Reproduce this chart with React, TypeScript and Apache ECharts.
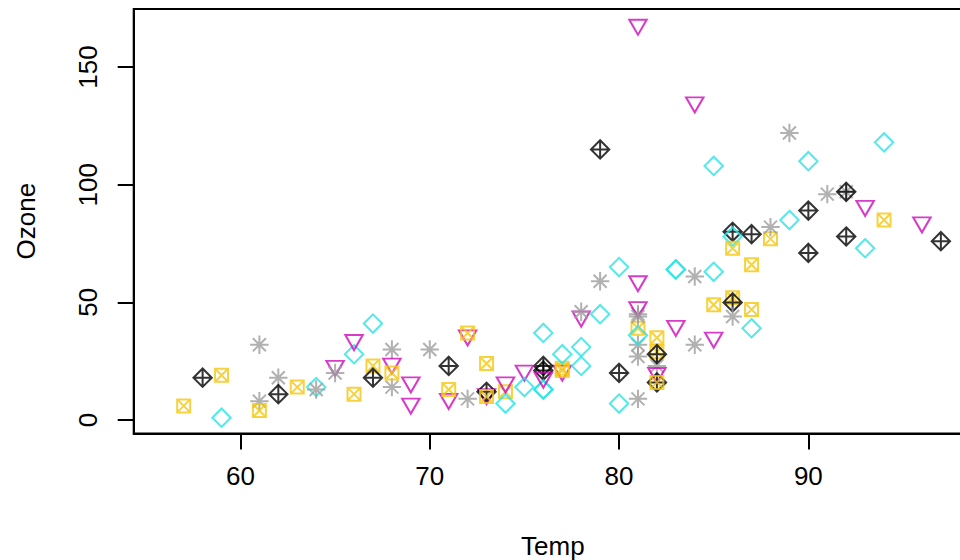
import React, { useEffect, useRef } from "react";
import * as echarts from "echarts";

// airquality: Temp and Ozone by row (May..September), null = NA
const temp = [
  67, 72, 74, 62, 56, 66, 65, 59, 61, 69, 74, 69, 66, 68, 58, 64, 66, 57, 68, 62, 59, 73, 61, 61, 57, 58, 57, 67, 81, 79, 76,
  78, 74, 67, 84, 85, 79, 82, 87, 90, 87, 93, 92, 82, 80, 79, 77, 72, 65, 73, 76, 77, 76, 76, 76, 75, 78, 73, 80, 77, 83,
  84, 85, 81, 84, 83, 83, 88, 92, 92, 89, 82, 73, 81, 91, 80, 81, 82, 84, 87, 85, 74, 81, 82, 86, 85, 82, 86, 88, 86, 83, 81,
  81, 81, 82, 86, 85, 87, 89, 90, 90, 92, 86, 86, 82, 80, 79, 77, 79, 76, 78, 78, 77, 72, 75, 79, 81, 86, 88, 97, 94, 96, 94,
  91, 92, 93, 93, 87, 84, 80, 78, 75, 73, 81, 76, 77, 71, 71, 78, 67, 76, 68, 82, 64, 71, 81, 69, 63, 70, 77, 75, 76, 68,
];
const ozone: (number | null)[] = [
  41, 36, 12, 18, null, 28, 23, 19, 8, null, 7, 16, 11, 14, 18, 14, 34, 6, 30, 11, 1, 11, 4, 32, null, null, null, 23, 45, 115, 37,
  null, null, null, null, null, null, 29, null, 71, 39, null, null, 23, null, null, 21, 37, 20, 12, 13, null, null, null, null, null, null, null, null, null, null,
  135, 49, 32, null, 64, 40, 77, 97, 97, 85, null, 10, 27, null, 7, 48, 35, 61, 79, 63, 16, null, null, 80, 108, 20, 52, 82, 50, 64, 59,
  39, 9, 16, 78, 35, 66, 122, 89, 110, null, null, 44, 28, 65, null, 22, 59, 23, 31, 44, 21, 9, null, 45, 168, 73, null, 76, 118, 84, 85,
  96, 78, 73, 91, 47, 32, 20, 23, 21, 24, 44, 21, 28, 9, 13, 46, 18, 13, 24, 16, 13, 23, 36, 7, 14, 30, null, 14, 18, 20,
];
// plotting symbols recycled along the rows (pch = 5:9)
const pchCycle = [5, 6, 7, 8, 9];
const xTicks = [60, 70, 80, 90];
const yTicks = [0, 50, 100, 150];

const R = 6.5; // base symbol radius (px)
const S2 = Math.SQRT2;
const symbolDefs: Record<number, any> = {
  5: { color: "#28E2E5", symbol: "path://M0 -1 L1 0 L0 1 L-1 0 Z", size: [2 * S2 * R, 2 * S2 * R], offset: [0, 0] },
  6: { color: "#CD0BBC", symbol: "path://M-1.34 -0.77 L1.34 -0.77 L0 1.55 Z", size: [2.68 * R, 2.32 * R], offset: [0, 0.39 * R] },
  7: { color: "#F5C710", symbol: "path://M-1 -1 L1 -1 L1 1 L-1 1 Z M-1 -1 L1 1 M-1 1 L1 -1", size: [2 * R, 2 * R], offset: [0, 0] },
  8: { color: "#9E9E9E", symbol: "path://M-1 -1 L1 1 M-1 1 L1 -1 M-1.41421 0 L1.41421 0 M0 -1.41421 L0 1.41421", size: [2 * S2 * R, 2 * S2 * R], offset: [0, 0] },
  9: { color: "#000000", symbol: "path://M0 -1 L1 0 L0 1 L-1 0 Z M-1 0 L1 0 M0 -1 L0 1", size: [2 * S2 * R, 2 * S2 * R], offset: [0, 0] },
};

const FONT = "'Liberation Sans', Arial, Helvetica, sans-serif";

export default function App() {
  const ref = useRef<HTMLDivElement>(null);
  useEffect(() => {
    if (!ref.current) return;
    const chart = echarts.init(ref.current, null, { renderer: "svg" });
    const data: any[] = [];
    temp.forEach((t, i) => {
      const o = ozone[i];
      if (o === null || o === undefined) return;
      const def = symbolDefs[pchCycle[i % 5]];
      data.push({
        value: [t, o],
        symbol: def.symbol,
        symbolSize: def.size,
        symbolOffset: def.offset,
        itemStyle: { color: "rgba(0,0,0,0)", borderColor: def.color, borderWidth: 2 },
      });
    });
    const xMin = 56 - 0.04 * (97 - 56);
    const xMax = 97 + 0.04 * (97 - 56);
    const yMin = 1 - 0.04 * (168 - 1);
    const yMax = 168 + 0.04 * (168 - 1);
    chart.setOption({
      animation: false,
      backgroundColor: "#ffffff",
      grid: {
        left: 133.7,
        top: 9,
        width: 838.2,
        height: 424.4,
        outerBoundsMode: "none",
        containLabel: false,
        show: true,
        borderColor: "#000",
        borderWidth: 2,
        backgroundColor: "transparent",
      },
      xAxis: {
        type: "value",
        min: xMin,
        max: xMax,
        name: "Temp",
        nameLocation: "middle",
        nameGap: 100,
        nameTextStyle: { fontSize: 26, color: "#000", fontFamily: FONT },
        axisLine: { show: true, onZero: false, lineStyle: { color: "#000", width: 2 } },
        axisTick: { show: true, length: 16, inside: false, customValues: xTicks, lineStyle: { color: "#000", width: 2 } },
        axisLabel: { show: true, customValues: xTicks, fontSize: 26, color: "#000", fontFamily: FONT, margin: 30 },
        splitLine: { show: false },
      },
      yAxis: {
        type: "value",
        min: yMin,
        max: yMax,
        name: "Ozone",
        nameLocation: "middle",
        nameGap: 95,
        nameRotate: 90,
        nameTextStyle: { fontSize: 26, color: "#000", fontFamily: FONT },
        axisLine: { show: true, onZero: false, lineStyle: { color: "#000", width: 2 } },
        axisTick: { show: true, length: 16, inside: false, customValues: yTicks, lineStyle: { color: "#000", width: 2 } },
        axisLabel: { show: true, customValues: yTicks, rotate: 90, fontSize: 26, color: "#000", fontFamily: FONT, margin: 33 },
        splitLine: { show: false },
      },
      series: [
        {
          type: "scatter",
          data,
          clip: false,
          emphasis: { disabled: true },
        },
      ],
    });
    return () => chart.dispose();
  }, []);
  return (
    <div
      ref={ref}
      style={{ position: "fixed", left: 0, top: 0, width: 960, height: 560, background: "#fff" }}
    />
  );
}
